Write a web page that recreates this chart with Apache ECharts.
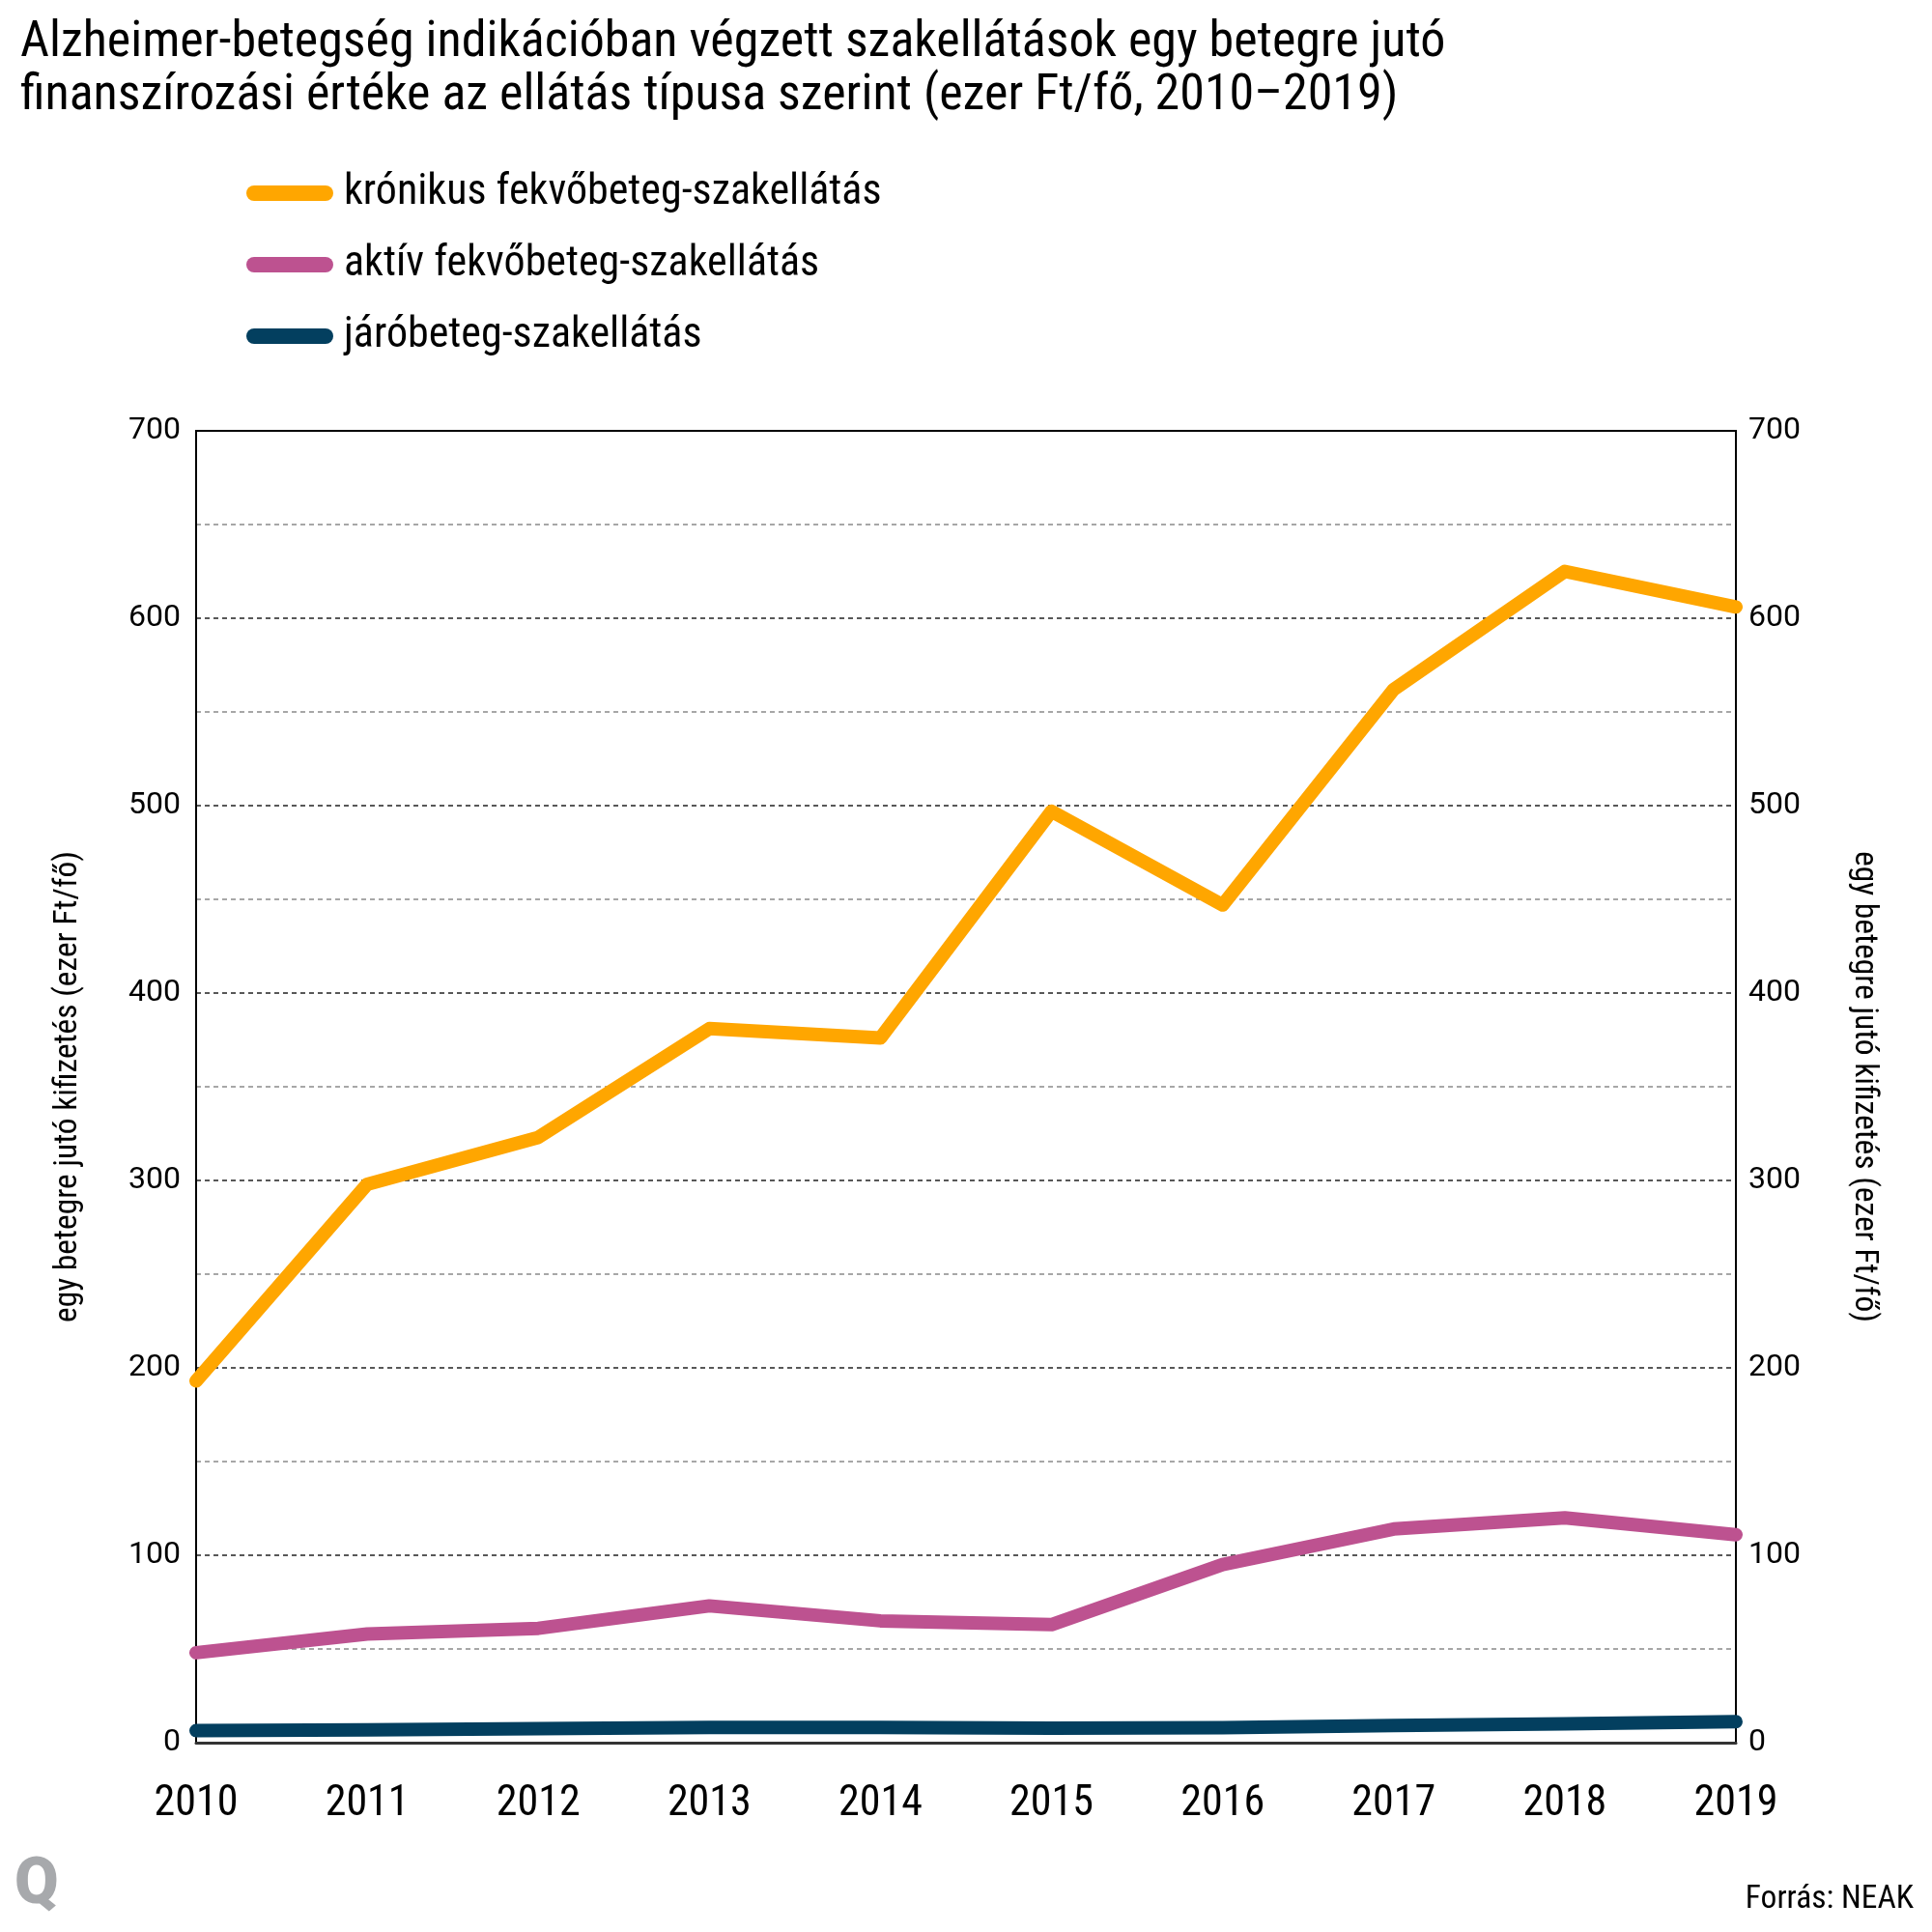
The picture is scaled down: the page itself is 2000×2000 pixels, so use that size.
<!DOCTYPE html>
<html>
<head>
<meta charset="utf-8">
<script src="https://cdn.jsdelivr.net/npm/echarts@6/dist/echarts.min.js"></script>
<style>
html,body{margin:0;padding:0;background:#fff;}
#chart{width:2000px;height:2000px;}
</style>
</head>
<body>
<div id="chart"></div>
<script>
const titleText = 'Alzheimer-betegség indikációban végzett szakellátások egy betegre jutó\nfinanszírozási értéke az ellátás típusa szerint (ezer Ft/fő, 2010\u20132019)';
const years = ['2010','2011','2012','2013','2014','2015','2016','2017','2018','2019'];
const seriesNames = ['krónikus fekvőbeteg-szakellátás','aktív fekvőbeteg-szakellátás','járóbeteg-szakellátás'];
const kronikus = [193, 298, 323, 381, 376, 497, 447, 562, 625, 606];
const aktiv = [48, 58, 61, 73, 65, 63, 95, 114, 120, 111];
const jarobeteg = [6.4, 6.8, 7.5, 8.1, 8.1, 7.7, 8.0, 9.1, 10.0, 11.2];
const yAxisName = 'egy betegre jutó kifizetés (ezer Ft/fő)';
const sourceText = 'Forrás: NEAK';
const colors = ['#FFA600', '#BD5290', '#033F5F'];

const COND = '"Roboto Condensed", "Liberation Sans Narrow", "Arial Narrow", "DejaVu Sans Condensed", Roboto, sans-serif';
const REG = 'Roboto, "Noto Sans", sans-serif';

const chart = echarts.init(document.getElementById('chart'), null, {renderer: 'canvas'});

const yCommon = {
  type: 'value', min: 0, max: 700, interval: 100,
  name: yAxisName, nameLocation: 'middle',
  nameTextStyle: {fontFamily: COND, fontSize: 33.5, color: '#000'},
  axisLine: {show: true, lineStyle: {color: '#000', width: 2}},
  axisTick: {show: false},
  axisLabel: {fontFamily: REG, fontSize: 32, color: '#000', padding: [0, 0, 13, 0]}
};

const seriesData = [kronikus, aktiv, jarobeteg];

chart.setOption({
  backgroundColor: '#fff',
  animation: false,
  title: {
    text: titleText, left: 16, top: 12,
    textStyle: {fontFamily: COND, fontSize: 52, fontWeight: 'normal', color: '#000', lineHeight: 55}
  },
  legend: {
    orient: 'vertical', left: 250, top: 171, itemGap: 26,
    itemWidth: 90, itemHeight: 16,
    icon: 'path://M8,0 H82 A8,8 0 0 1 82,16 H8 A8,8 0 0 1 8,0 Z',
    textStyle: {fontFamily: COND, fontSize: 44, color: '#000', lineHeight: 48, padding: [0, 0, 0, 6]},
    data: seriesNames
  },
  grid: {left: 203, right: 203, top: 446, bottom: 196, show: true, borderColor: '#000', borderWidth: 2, containLabel: false},
  xAxis: {
    type: 'category', data: years, boundaryGap: false,
    axisLine: {lineStyle: {color: '#333', width: 3}},
    axisTick: {show: false},
    axisLabel: {fontFamily: COND, fontSize: 44, color: '#000', margin: 42}
  },
  yAxis: [
    Object.assign({}, yCommon, {
      position: 'left', nameGap: 115, nameRotate: 90,
      axisLabel: Object.assign({}, yCommon.axisLabel, {margin: 16}),
      splitLine: {show: true, showMinLine: false, showMaxLine: false, lineStyle: {color: '#222', type: [5, 4], width: 1.5}},
      minorTick: {show: false, splitNumber: 2},
      minorSplitLine: {show: true, lineStyle: {color: '#8a8a8a', type: [5, 4], width: 1.5}}
    }),
    Object.assign({}, yCommon, {
      position: 'right', nameGap: 115, nameRotate: -90,
      axisLabel: Object.assign({}, yCommon.axisLabel, {margin: 13}),
      splitLine: {show: false}
    })
  ],
  series: seriesNames.map((n, i) => ({
    name: n, type: 'line', data: seriesData[i], yAxisIndex: 0,
    symbol: 'none', color: colors[i],
    lineStyle: {width: 14, color: colors[i], cap: 'round', join: 'round'},
    z: 10 - i
  })),
  graphic: [
    {type: 'text', left: 15, top: 1920, style: {text: 'Q', fontFamily: 'Roboto, "DejaVu Sans", sans-serif', fontWeight: 900, fontSize: 66, fill: '#A7A9AC'}},
    {type: 'text', right: 19, top: 1950, style: {text: sourceText, fontFamily: COND, fontSize: 33.5, fill: '#000'}}
  ]
});
</script>
</body>
</html>
